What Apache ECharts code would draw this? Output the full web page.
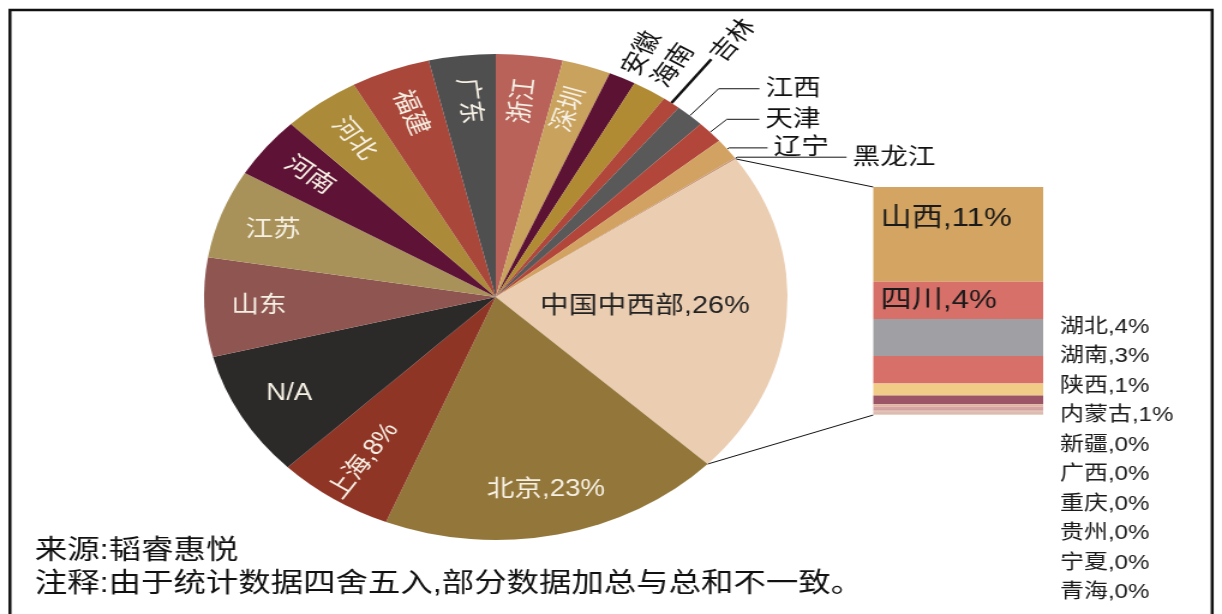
<!DOCTYPE html>
<html>
<head>
<meta charset="utf-8">
<script src="https://cdn.jsdelivr.net/npm/echarts@6/dist/echarts.min.js"></script>
<style>
    html, body { margin: 0; padding: 0; background: #fff; overflow: hidden; }
    /* the picture is stretched sideways, so draw 1018 wide and widen by 1.2 */
    #chart { width: 1018px; height: 614px; transform: scaleX(1.2004); transform-origin: 0 0; }
</style>
</head>
<body>
<div id="chart"></div>
<script>
    // pie, clockwise from 12 o'clock
    const pieNames = ['浙江', '深圳', '安徽', '海南', '吉林', '江西', '天津', '辽宁', '黑龙江',
        '中国中西部', '北京', '上海', 'N/A', '山东', '江苏', '河南', '河北', '福建', '广东'];
    const pieValues = [3.7, 2.7, 1.5, 1.9, 1.0, 1.6, 1.5, 1.4, 0.1,
        21.7, 19.1, 6.5, 8.4, 6.6, 5.9, 4.1, 4.3, 4.4, 3.7];
    // percentages printed on the picture
    const pieShownPct = [null, null, null, null, null, null, null, null, null,
        26, 23, 8, null, null, null, null, null, null, null];
    const pieColors = ['#b8625a', '#c9a25e', '#5c1232', '#b08b34', '#b0473a', '#595959', '#b2463a', '#d2a262', '#c89878',
        '#ebcdb1', '#93773a', '#8f3526', '#2b2a29', '#8e5551', '#a8925a', '#5e1336', '#ab8b3a', '#a9473b', '#4f4f4f'];

    // bar: breakdown of 中国中西部, top to bottom
    const barNames = ['山西', '四川', '湖北', '湖南', '陕西', '内蒙古', '新疆', '广西', '重庆', '贵州', '宁夏', '青海'];
    const barValues = [11.0, 4.3, 4.3, 3.2, 1.4, 1.0, 0.3, 0.25, 0.2, 0.2, 0.15, 0.15];
    const barColors = ['#d4a562', '#d8706a', '#a0a0a4', '#d8706a', '#f0cc86', '#9b5566',
        '#e0b4a0', '#d8a2a2', '#cfa0a0', '#e6c2b0', '#c89a90', '#ead2c2'];

    const sourceText = '来源:韬睿惠悦';
    const noteText = '注释:由于统计数据四舍五入,部分数据加总与总和不一致。';

    const FONT = '"Liberation Sans", "Noto Sans CJK SC", sans-serif';
    const pieCenter = [413, 297];
    const pieRadius = 243;
    const barBox = {left: 727.5, top: 187, width: 141.5, height: 228};

    const radialInside = ['浙江', '深圳', '福建', '河北', '河南', '广东', '上海'];
    const outsideLabels = {
        '安徽': {length: 4, length2: 0, line: false, rotate: 'radial'},
        '海南': {length: 6, length2: 0, line: false, rotate: 'radial'},
        '吉林': {length: 55, length2: 0, width: 2.5, rotate: 'radial'},
        '江西': {length: 36, length2: 34},
        '天津': {length: 19, length2: 27},
        '辽宁': {length: 2, length2: 32},
        '黑龙江': {length: 2, length2: 91}
    };

    function labelText(i) {
        return pieShownPct[i] != null ? pieNames[i] + ',' + pieShownPct[i] + '%' : pieNames[i];
    }

    const pieTotal = pieValues.reduce((a, b) => a + b, 0);
    const barTotal = barValues.reduce((a, b) => a + b, 0);

    // point on the pie rim at a share of the total
    function rimPoint(frac) {
        const a = frac * Math.PI * 2;
        return [pieCenter[0] + pieRadius * Math.sin(a), pieCenter[1] - pieRadius * Math.cos(a)];
    }
    const midIndex = pieNames.indexOf('中国中西部');
    const before = pieValues.slice(0, midIndex).reduce((a, b) => a + b, 0);
    const p1 = rimPoint(before / pieTotal);
    const p2 = rimPoint((before + pieValues[midIndex]) / pieTotal);

    const chart = echarts.init(document.getElementById('chart'));

    const sliceData = pieNames.map((name, i) => {
        const item = {name: name, value: pieValues[i], itemStyle: {color: pieColors[i]}};
        const out = outsideLabels[name];
        if (out) {
            item.label = {show: true, position: 'outside', rotate: out.rotate || 0, formatter: labelText(i)};
            item.labelLine = {
                show: out.line !== false, length: out.length, length2: out.length2,
                lineStyle: {width: out.width || 1, color: '#111'}
            };
        } else if (name === '中国中西部') {
            item.label = {show: true, position: 'inside', color: '#222', fontSize: 24, formatter: labelText(i)};
        }
        return item;
    });

    const ringData = pieNames.map((name, i) => {
        const item = {name: name, value: pieValues[i]};
        if (outsideLabels[name] || name === '中国中西部') {
            item.label = {show: false};
        } else {
            item.label = {show: true, formatter: labelText(i), rotate: radialInside.indexOf(name) >= 0 ? 'radial' : 0};
        }
        return item;
    });

    const barSeries = barNames.map((name, i) => ({
        name: name,
        type: 'bar',
        stack: 'mid',
        barWidth: '100%',
        silent: true,
        data: [barValues[i]],
        itemStyle: {color: barColors[i]},
        label: i < 2 ? {
            show: true,
            position: 'insideLeft',
            offset: [0, i === 0 ? -16 : 0],
            distance: 6,
            fontFamily: FONT,
            fontSize: 26,
            color: '#1a1a1a',
            formatter: name + ',' + Math.round(barValues[i]) + '%'
        } : {show: false}
    }));

    chart.setOption({
        animation: false,
        backgroundColor: '#fff',
        grid: {left: barBox.left, top: barBox.top, width: barBox.width, height: barBox.height},
        xAxis: {type: 'category', data: ['中国中西部'], show: false},
        yAxis: {type: 'value', inverse: true, min: 0, max: barTotal, show: false},
        legend: {
            data: barNames.slice(2),
            orient: 'vertical',
            left: 878,
            top: 317,
            padding: 0,
            itemWidth: 0,
            itemHeight: 0,
            itemGap: 9.5,
            selectedMode: false,
            textStyle: {fontFamily: FONT, fontSize: 20, color: '#1a1a1a'},
            formatter: (name) => name + ',' + Math.round(barValues[barNames.indexOf(name)]) + '%'
        },
        series: [
            {
                type: 'pie',
                name: 'slices',
                center: pieCenter,
                radius: [0, pieRadius],
                startAngle: 90,
                clockwise: true,
                avoidLabelOverlap: false,
                silent: true,
                emphasis: {disabled: true},
                itemStyle: {borderWidth: 0},
                label: {show: false, fontFamily: FONT, fontSize: 23, color: '#111'},
                labelLine: {show: false},
                data: sliceData
            },
            {
                // clear ring that only carries the labels further out
                type: 'pie',
                name: 'labels',
                center: pieCenter,
                radius: [pieRadius * 0.6, pieRadius],
                startAngle: 90,
                clockwise: true,
                avoidLabelOverlap: false,
                silent: true,
                emphasis: {disabled: true},
                itemStyle: {color: 'rgba(0,0,0,0)', borderWidth: 0},
                label: {show: true, position: 'inside', fontFamily: FONT, fontSize: 23, color: '#f6f0e4'},
                labelLine: {show: false},
                data: ringData
            }
        ].concat(barSeries),
        graphic: [
            {
                type: 'rect',
                shape: {x: 8.3, y: 10, width: 1001.5, height: 640},
                style: {fill: 'none', stroke: '#111', lineWidth: 2.5},
                silent: true
            },
            {
                type: 'line',
                shape: {x1: p1[0], y1: p1[1], x2: barBox.left, y2: barBox.top},
                style: {stroke: '#111', lineWidth: 1},
                silent: true
            },
            {
                type: 'line',
                shape: {x1: p2[0], y1: p2[1], x2: barBox.left, y2: barBox.top + barBox.height},
                style: {stroke: '#111', lineWidth: 1},
                silent: true
            },
            {
                type: 'text',
                x: 29, y: 538,
                style: {text: sourceText, fontFamily: FONT, fontSize: 27, fill: '#111'},
                silent: true
            },
            {
                type: 'text',
                x: 29, y: 571,
                style: {text: noteText, fontFamily: FONT, fontSize: 27, fill: '#111'},
                silent: true
            }
        ]
    });
</script>
</body>
</html>
